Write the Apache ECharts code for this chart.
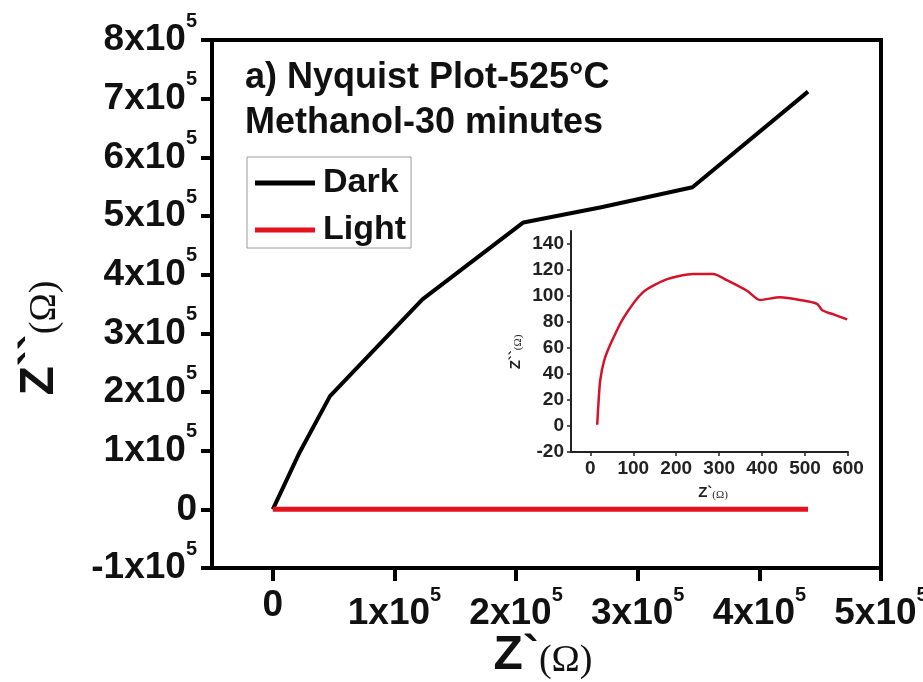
<!DOCTYPE html>
<html>
<head>
<meta charset="utf-8">
<script src="https://cdn.jsdelivr.net/npm/echarts@6/dist/echarts.min.js"></script>
<style>
  html, body { margin: 0; padding: 0; background: #fff; }
  #chart { width: 923px; height: 682px; }
</style>
</head>
<body>
<div id="chart"></div>
<script>
// Nyquist data, main panel (Ω)
const darkRe  = [0, 22000, 47000, 123000, 206000, 270000, 345000, 440000];
const darkIm  = [0, 97000, 193000, 358000, 489000, 515000, 549000, 712000];
const lightRe = [0, 440000];
const lightIm = [0, 0];

// Inset: light response on an Ω scale
const insetRe = [16, 19, 23, 32, 47, 77, 123, 179, 240, 286, 319, 365, 395, 442, 488, 528, 540, 565, 598];
const insetIm = [1, 18, 35, 50, 63, 83, 103, 113, 117, 117, 112, 104, 97, 99, 97, 94, 89, 86, 82];

// Tick positions
const mainXTicks  = [0, 100000, 200000, 300000, 400000, 500000];
const insetXTicks = [0, 100, 200, 300, 400, 500, 600];
const insetYTicks = [-20, 0, 20, 40, 60, 80, 100, 120, 140];

const zip = (a, b) => a.map((v, i) => [v, b[i]]);

const SANS = 'Liberation Sans, Arial, sans-serif';
const SERIF = 'Liberation Serif, Times New Roman, serif';

function sciLabel(v) {
  if (v === 0) return '{z|0}';
  return '{b|' + Math.round(v / 1e5) + 'x10}{s|5}';
}
const sciRich = {
  b: { fontSize: 37, fontWeight: 'bold', fontFamily: SANS, color: '#111', lineHeight: 58 },
  z: { fontSize: 37, fontWeight: 'bold', fontFamily: SANS, color: '#111', lineHeight: 42 },
  s: { fontSize: 20, fontWeight: 'bold', fontFamily: SANS, color: '#111', lineHeight: 20, verticalAlign: 'top' }
};

const insetLabel = { fontSize: 19, fontWeight: 'bold', fontFamily: SANS, color: '#222' };

const nameRich = {
  z: { fontSize: 48, fontWeight: 'bold', fontFamily: SANS, fill: '#111', verticalAlign: 'bottom', lineHeight: 48 },
  o: { fontSize: 38, fontFamily: SERIF, fill: '#111', verticalAlign: 'bottom', lineHeight: 44 }
};
const smallNameRich = {
  z: { fontSize: 15, fontWeight: 'bold', fontFamily: SANS, fill: '#222', verticalAlign: 'bottom', lineHeight: 15 },
  o: { fontSize: 11, fontFamily: SERIF, fill: '#222', verticalAlign: 'bottom', lineHeight: 13 }
};

const chart = echarts.init(document.getElementById('chart'), null, { renderer: 'canvas' });

chart.setOption({
  animation: false,
  backgroundColor: '#fff',
  grid: [
    { left: 212, right: 42, top: 40, bottom: 114, outerBoundsMode: 'none', containLabel: false,
      show: true, borderColor: '#000', borderWidth: 4, backgroundColor: 'transparent' },
    { left: 571, top: 231, width: 277, height: 221, outerBoundsMode: 'none', containLabel: false, show: false }
  ],
  legend: {
    left: 247, top: 157, orient: 'vertical',
    data: ['Dark', 'Light'],
    icon: 'rect', itemWidth: 60, itemHeight: 5, itemGap: 13,
    borderColor: '#9a9a9a', borderWidth: 1, padding: [9, 5, 1, 8],
    textStyle: { fontSize: 34, fontWeight: 'bold', fontFamily: SANS, color: '#111', padding: [0, 0, 0, 3] }
  },
  xAxis: [
    {
      gridIndex: 0, type: 'value', min: -50000, max: 500000,
      axisLine: { onZero: false, lineStyle: { color: '#000', width: 4 } },
      axisTick: { show: true, inside: false, length: 13, lineStyle: { width: 4, color: '#000' }, customValues: mainXTicks },
      axisLabel: { customValues: mainXTicks, margin: 17, formatter: sciLabel, rich: sciRich },
      splitLine: { show: false }
    },
    {
      gridIndex: 1, type: 'value', min: -45, max: 600,
      axisLine: { onZero: false, lineStyle: { color: '#222', width: 2 } },
      axisTick: { inside: false, length: 4, lineStyle: { width: 1.5, color: '#222' }, customValues: insetXTicks },
      axisLabel: Object.assign({ customValues: insetXTicks, margin: 7 }, insetLabel),
      splitLine: { show: false }
    }
  ],
  yAxis: [
    {
      gridIndex: 0, type: 'value', min: -100000, max: 800000, interval: 100000,
      axisLine: { show: true, onZero: false, lineStyle: { color: '#000', width: 4 } },
      axisTick: { show: true, inside: false, length: 11, lineStyle: { width: 4, color: '#000' } },
      axisLabel: { margin: 15, formatter: sciLabel, rich: sciRich },
      splitLine: { show: false }
    },
    {
      gridIndex: 1, type: 'value', min: -20, max: 150,
      axisLine: { show: true, onZero: false, lineStyle: { color: '#222', width: 2 } },
      axisTick: { show: true, inside: false, length: 4, lineStyle: { width: 1.5, color: '#222' }, customValues: insetYTicks },
      axisLabel: Object.assign({ customValues: insetYTicks, margin: 7 }, insetLabel),
      splitLine: { show: false }
    }
  ],
  series: [
    {
      name: 'Dark', type: 'line', xAxisIndex: 0, yAxisIndex: 0,
      data: zip(darkRe, darkIm), showSymbol: false,
      lineStyle: { color: '#000', width: 4, join: 'round' }, itemStyle: { color: '#000' }
    },
    {
      name: 'Light', type: 'line', xAxisIndex: 0, yAxisIndex: 0,
      data: zip(lightRe, lightIm), showSymbol: false,
      lineStyle: { color: '#e3121c', width: 5 }, itemStyle: { color: '#e3121c' }
    },
    {
      name: 'Light (inset)', type: 'line', xAxisIndex: 1, yAxisIndex: 1,
      data: zip(insetRe, insetIm), showSymbol: false, smooth: 0.25,
      lineStyle: { color: '#d4122a', width: 2.5 }
    }
  ],
  graphic: [
    {
      type: 'text', left: 245, top: 56,
      style: {
        text: 'a) Nyquist Plot-525°C\nMethanol-30 minutes',
        font: 'bold 36px ' + SANS, fill: '#111', lineHeight: 45
      }
    },
    {
      type: 'text', x: 543, y: 656,
      style: { text: '{z|Z`}{o|(Ω)}', align: 'center', verticalAlign: 'middle', rich: nameRich }
    },
    {
      type: 'text', x: 40, y: 338, rotation: Math.PI / 2,
      style: { text: '{z|Z``}{o|(Ω)}', align: 'center', verticalAlign: 'middle', rich: nameRich }
    },
    {
      type: 'text', x: 713, y: 493,
      style: { text: '{z|Z`}{o|(Ω)}', align: 'center', verticalAlign: 'middle', rich: smallNameRich }
    },
    {
      type: 'text', x: 516, y: 352, rotation: Math.PI / 2,
      style: { text: '{z|Z``}{o|(Ω)}', align: 'center', verticalAlign: 'middle', rich: smallNameRich }
    }
  ]
});
</script>
</body>
</html>
